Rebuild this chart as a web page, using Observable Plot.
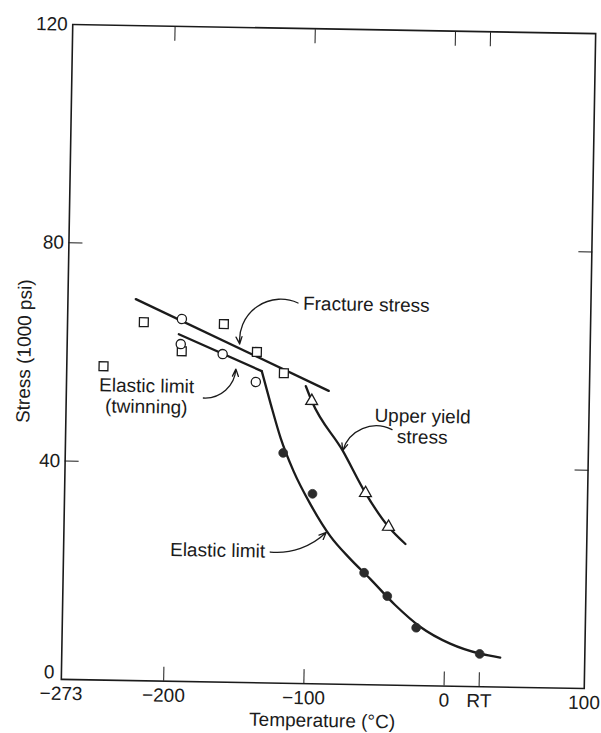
<!DOCTYPE html>
<html>
<head>
<meta charset="utf-8">
<script src="https://cdn.jsdelivr.net/npm/d3@7"></script>
<script src="https://cdn.jsdelivr.net/npm/@observablehq/plot@0.6"></script>
<style>
  html, body { margin: 0; padding: 0; background: #fff; overflow: hidden; width: 601px; height: 733px; }
  /* the printed figure sits slightly askew on the page */
  #chart svg { display: block; overflow: visible; transform: rotate(1deg); transform-origin: 328px 356px; }
</style>
</head>
<body>
<div id="chart"></div>
<script>
// Axis ticks: temperature (°C) and stress (1000 psi)
const tempTicks = [-273, -200, -100, 0, 25, 100];
const tempTickLabels = ["−273", "−200", "−100", "0", "RT", "100"];
const tempInnerTicks = [-200, -100, 0, 25];
const stressTicks = [0, 40, 80, 120];
const stressInnerTicks = [40, 80];

// Fracture stress: measured points (open squares) and fitted line
const fractureT = [-246.8, -218.6, -191.2, -161.5, -137.6, -118.1];
const fractureS = [57.5, 65.7, 60.5, 65.6, 60.6, 56.8];
const fractureLineT = [-224.6, -85.9];
const fractureLineS = [69.9, 53.7];

// Elastic limit by twinning: open circles and line
const twinT = [-191.5, -192, -162, -138];
const twinS = [66.4, 61.8, 60.1, 55.1];
const twinLineT = [-193.5, -133.9];
const twinLineS = [63.6, 57.1];

// Elastic limit: filled circles and curve
const elasticT = [-117.6, -96.2, -58.4, -41.6, -20.6, 25];
const elasticS = [42.2, 34.8, 20.5, 16.3, 10.6, 6.0];
const elasticCurveT = [-133.9, -127.1, -119.6, -110.0, -97.6, -83.0, -68.5, -54.0, -35.9, -17.8, 3.8, 25.3, 39.7];
const elasticCurveS = [57.1, 51.1, 44.9, 38.9, 32.9, 27.1, 23.0, 19.4, 14.7, 10.8, 7.8, 6.05, 5.4];

// Upper yield stress: open triangles and curve
const yieldT = [-97.9, -58.4, -41.6];
const yieldS = [51.8, 35.1, 29.0];
const yieldCurveT = [-102.3, -97.9, -75.2, -58.4, -41.6, -29.3];
const yieldCurveS = [54.5, 51.8, 42.8, 35.1, 29.0, 25.9];

// Curve labels (in data units) and the arrows from each label to its curve
const labelText = ["Fracture stress", "Elastic limit\n(twinning)", "Upper yield\nstress", "Elastic limit"];
const labelT = [-105.3, -215.8, -18.7, -129.3];
const labelS = [69.7, 52.2, 47.5, 24.2];
const arrowFromT = [-108.9, -175.2, -40.3, -125.6];
const arrowFromS = [69.7, 52.0, 46.8, 24.0];
const arrowToT = [-150.0, -152.4, -75.2, -85.9];
const arrowToS = [62.0, 57.4, 42.8, 27.8];

const zip = (ts, ss) => ts.map((t, i) => ({t, s: ss[i]}));
const ink = "#1b1b1b";
const font = "'Liberation Sans', Arial, sans-serif";

// per-label text alignment and arrow curvature
const labelAnchors = ["start", "middle", "middle", "end"];
const arrowBends = [-60, -45, -50, -25];

const labelMarks = labelText.map((text, i) =>
  Plot.text([{t: labelT[i], s: labelS[i], text}], {
    x: "t", y: "s", text: "text", textAnchor: labelAnchors[i],
    lineHeight: 1.1, fontSize: 19, fill: ink
  })
);
const arrowMarks = labelText.map((_, i) =>
  Plot.arrow([{x1: arrowFromT[i], y1: arrowFromS[i], x2: arrowToT[i], y2: arrowToS[i]}], {
    x1: "x1", y1: "y1", x2: "x2", y2: "y2", bend: arrowBends[i],
    stroke: ink, strokeWidth: 1.3, headLength: 9, headAngle: 45
  })
);

const chart = Plot.plot({
  width: 601,
  height: 733,
  marginLeft: 66.5,
  marginRight: 11.5,
  marginTop: 28.5,
  marginBottom: 49.5,
  x: {domain: [-273, 100]},
  y: {domain: [0, 120]},
  style: {fontFamily: font, fontSize: "19px", color: ink, background: "#fff", overflow: "visible"},
  marks: [
    // tick labels and axis titles
    Plot.axisX({anchor: "bottom", ticks: tempTicks, tickFormat: (d) => tempTickLabels[tempTicks.indexOf(d)],
      tickSize: 0, tickPadding: 7, label: "Temperature (°C)", labelAnchor: "center", labelArrow: "none", labelOffset: 43}),
    Plot.axisY({anchor: "left", ticks: stressTicks.filter((d) => d > 0), tickSize: 0, tickPadding: 5,
      label: "Stress (1000 psi)", labelAnchor: "center", labelArrow: "none", labelOffset: 50}),
    // the zero label sits a little above the corner
    Plot.axisY({anchor: "left", ticks: stressTicks.filter((d) => d === 0), tickSize: 0, tickPadding: 7, dy: -7, label: null}),
    // inward tick marks on all four sides
    Plot.axisX({anchor: "bottom", ticks: tempInnerTicks, tickSize: -14, tickFormat: () => "", label: null}),
    Plot.axisX({anchor: "top", ticks: tempInnerTicks, tickSize: -14, tickFormat: () => "", label: null}),
    Plot.axisY({anchor: "left", ticks: stressInnerTicks, tickSize: -14, tickFormat: () => "", label: null}),
    Plot.axisY({anchor: "right", ticks: stressInnerTicks, tickSize: -14, tickFormat: () => "", label: null}),
    Plot.frame({stroke: ink, strokeWidth: 1.6}),

    // curves
    Plot.line(zip(fractureLineT, fractureLineS), {x: "t", y: "s", stroke: ink, strokeWidth: 2.3}),
    Plot.line(zip(twinLineT, twinLineS), {x: "t", y: "s", stroke: ink, strokeWidth: 2.3}),
    Plot.line(zip(elasticCurveT, elasticCurveS), {x: "t", y: "s", stroke: ink, strokeWidth: 2.3, curve: "monotone-x"}),
    Plot.line(zip(yieldCurveT, yieldCurveS), {x: "t", y: "s", stroke: ink, strokeWidth: 2.3, curve: "monotone-x"}),

    // data points
    Plot.dot(zip(fractureT, fractureS), {x: "t", y: "s", symbol: "square", r: 5, fill: "#fff", stroke: ink, strokeWidth: 1.3}),
    Plot.dot(zip(twinT, twinS), {x: "t", y: "s", symbol: "circle", r: 4.6, fill: "#fff", stroke: ink, strokeWidth: 1.3}),
    Plot.dot(zip(yieldT, yieldS), {x: "t", y: "s", symbol: "triangle", r: 4.4, fill: "#fff", stroke: ink, strokeWidth: 1.3}),
    Plot.dot(zip(elasticT, elasticS), {x: "t", y: "s", symbol: "circle", r: 4.4, fill: "#2b2b2b", stroke: "#2b2b2b", strokeWidth: 0.8}),

    // annotations
    ...arrowMarks,
    ...labelMarks
  ]
});

document.getElementById("chart").appendChild(chart);
</script>
</body>
</html>
